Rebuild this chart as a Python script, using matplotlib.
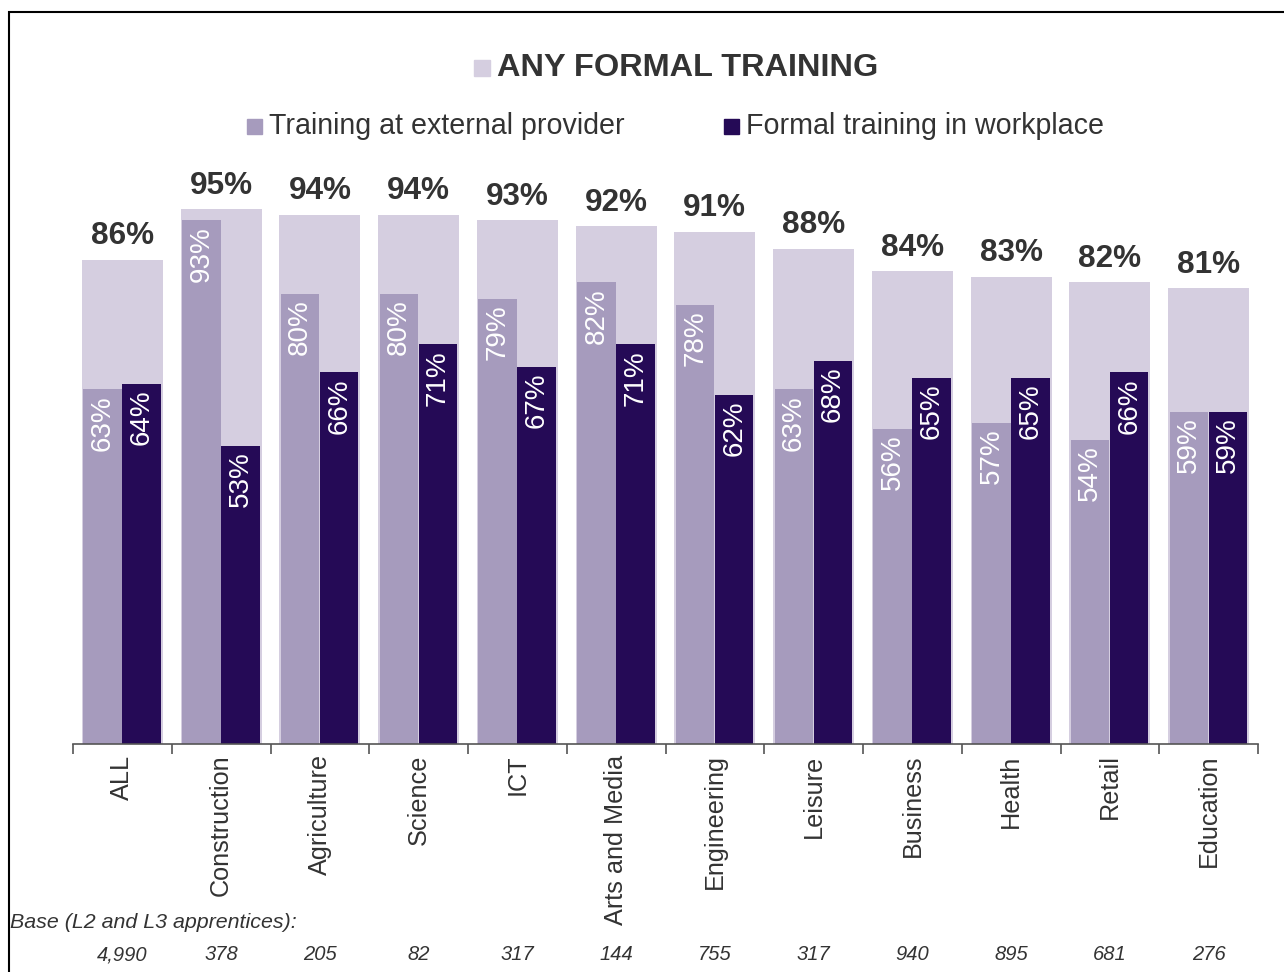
import numpy as np
import matplotlib.pyplot as plt
from matplotlib.patches import Rectangle

plt.rcParams['font.family'] = ['Liberation Sans', 'DejaVu Sans']

categories = ["ALL", "Construction", "Agriculture", "Science", "ICT", "Arts and Media",
              "Engineering", "Leisure", "Business", "Health", "Retail", "Education"]
any_formal = [86, 95, 94, 94, 93, 92, 91, 88, 84, 83, 82, 81]
external = [63, 93, 80, 80, 79, 82, 78, 63, 56, 57, 54, 59]
workplace = [64, 53, 66, 71, 67, 71, 62, 68, 65, 65, 66, 59]
bases = ["4,990", "378", "205", "82", "317", "144", "755", "317", "940", "895", "681", "276"]

c_any = "#D5CEE0"
c_ext = "#A69BBD"
c_work = "#250A56"
c_text = "#333333"

W, H = 1284, 972
fig = plt.figure(figsize=(W / 100, H / 100), dpi=100)
ax = fig.add_axes([73 / W, 1 - 744 / H, (1258 - 73) / W, (744 - 181) / H])

x = np.arange(len(categories))
ax.bar(x, any_formal, width=0.82, color=c_any, zorder=1)
ax.bar(x - 0.2, external, width=0.39, color=c_ext, zorder=2)
ax.bar(x + 0.195, workplace, width=0.39, color=c_work, zorder=2)

for i in range(len(categories)):
    ax.text(x[i], any_formal[i] + 1.5, f"{any_formal[i]}%", ha="center", va="bottom",
            fontsize=22.7, fontweight="bold", color=c_text)
    ax.text(x[i] - 0.2, external[i] - 1.0, f"{external[i]}%", ha="center", va="top",
            rotation=90, fontsize=20, color="white")
    ax.text(x[i] + 0.195, workplace[i] - 1.0, f"{workplace[i]}%", ha="center", va="top",
            rotation=90, fontsize=20, color="white")

ax.set_xlim(-0.5, len(categories) - 0.5)
ax.set_ylim(0, 100)
ax.set_yticks([])
ax.set_xticks(np.arange(len(categories) + 1) - 0.5)
ax.set_xticklabels([])
ax.tick_params(axis="x", length=7, color="#555555", width=1.2)
for s in ["top", "right", "left"]:
    ax.spines[s].set_visible(False)
ax.spines["bottom"].set_color("#555555")
ax.spines["bottom"].set_linewidth(1.2)

for i, name in enumerate(categories):
    ax.annotate(name, xy=(x[i], 0), xycoords=("data", "axes fraction"),
                xytext=(0, -7.5), textcoords="offset points", rotation=90,
                ha="center", va="top", fontsize=18.2, color=c_text)
    ax.annotate(bases[i], xy=(x[i], 0), xycoords=("data", "axes fraction"),
                xytext=(0, -(955 - 744) * 0.72), textcoords="offset points",
                ha="center", va="center", fontsize=14.5, style="italic", color=c_text)

fig.text(10 / W, 1 - 922 / H, "Base (L2 and L3 apprentices):", ha="left", va="center",
         fontsize=15.4, style="italic", color=c_text)

# legend
def legend_item(x0, yc, size, color, label, **kw):
    fig.patches.append(Rectangle((x0 / W, 1 - (yc + size / 2) / H), size / W, size / H,
                                 transform=fig.transFigure, color=color, figure=fig))
    fig.text((x0 + size + 7) / W, 1 - yc / H, label, ha="left", va="center",
             color=c_text, **kw)

legend_item(474, 68, 16, c_any, "ANY FORMAL TRAINING", fontsize=23.4, fontweight="bold")
legend_item(247, 126, 15, c_ext, "Training at external provider", fontsize=20.6)
legend_item(724, 126, 15, c_work, "Formal training in workplace", fontsize=20.6)

# outer frame
fig.patches.append(Rectangle((9 / W, -0.1), 1.2, 1 - 12 / H + 0.1, transform=fig.transFigure,
                             fill=False, edgecolor="black", linewidth=1.5, figure=fig))

fig.savefig("out.png", dpi=100)
